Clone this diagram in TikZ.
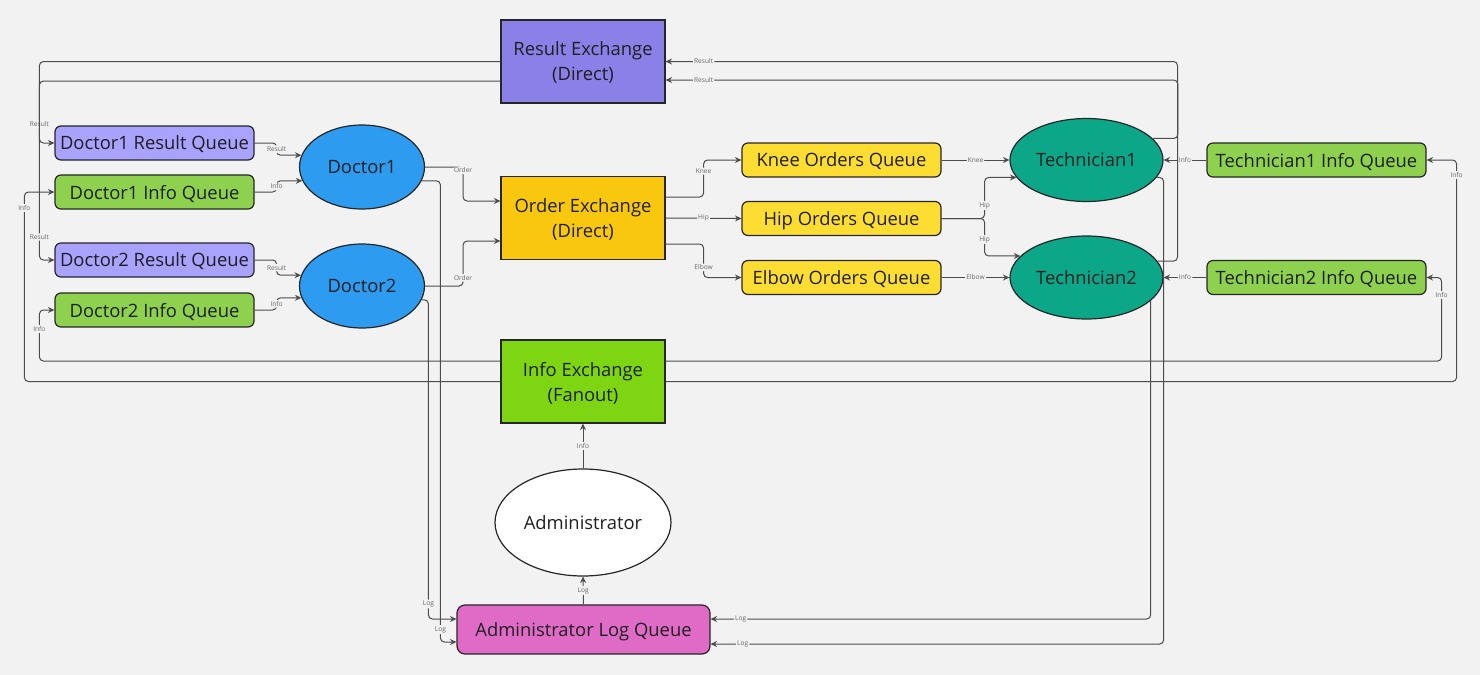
\documentclass[tikz,border=0pt]{standalone}
\usepackage{fontspec}
\setmainfont{Open Sans}
\usetikzlibrary{arrows.meta,calc,shapes.geometric}

\definecolor{pagebg}{HTML}{F2F2F2}
\definecolor{rexfill}{HTML}{8A80E8}
\definecolor{oexfill}{HTML}{F9C80E}
\definecolor{iexfill}{HTML}{7ED612}
\definecolor{resqfill}{HTML}{A9A2FE}
\definecolor{infoqfill}{HTML}{8DD14F}
\definecolor{docfill}{HTML}{2D9BF0}
\definecolor{ordqfill}{HTML}{FEDD33}
\definecolor{techfill}{HTML}{0CA789}
\definecolor{logqfill}{HTML}{E06BC6}

\begin{document}
\begin{tikzpicture}[x = 0.5pt, y = -0.5pt,
    every node/.style = {font = \fontsize{9.2}{12.5}\selectfont, text = black!88},
    exchange/.style = {draw = black!85, line width = 0.6pt, minimum width = 82pt,
        minimum height = 41.5pt, align = center, text depth = 0pt},
    queue/.style = {draw = black!85, line width = 0.6pt, rounded corners = 3pt,
        minimum width = 99.5pt, minimum height = 17pt, inner sep = 0pt, text depth = 0pt},
    actor/.style = {ellipse, draw = black!85, line width = 0.6pt, inner sep = 0pt,
        minimum width = 62.5pt, minimum height = 42pt, text depth = 0pt},
    link/.style = {draw = black!70, line width = 0.5pt, rounded corners = 2pt,
        -{Stealth[length = 3.2pt, width = 3pt]}},
    lbl/.style = {font = \fontsize{3.3}{4}\selectfont, text = black!60, fill = pagebg,
        inner sep = 0.6pt}]

    \fill[pagebg] (0, 0) rectangle (1480, 675);

    % exchanges
    \node[exchange, fill = rexfill] (rex) at (583, 61.5) {Result Exchange\\(Direct)};
    \node[exchange, fill = oexfill] (oex) at (583, 218) {Order Exchange\\(Direct)};
    \node[exchange, fill = iexfill] (iex) at (583, 381.5) {Info Exchange\\(Fanout)};

    % doctors and their queues
    \node[queue, fill = resqfill] (d1res) at (154.5, 143) {Doctor1 Result Queue};
    \node[queue, fill = infoqfill] (d1info) at (154.5, 192) {Doctor1 Info Queue};
    \node[queue, fill = resqfill] (d2res) at (154.5, 260) {Doctor2 Result Queue};
    \node[queue, fill = infoqfill] (d2info) at (154.5, 310) {Doctor2 Info Queue};
    \node[actor, fill = docfill] (doc1) at (362, 167) {Doctor1};
    \node[actor, fill = docfill] (doc2) at (362, 286) {Doctor2};

    % order queues
    \node[queue, fill = ordqfill] (knee) at (841.5, 160) {Knee Orders Queue};
    \node[queue, fill = ordqfill] (hip) at (841.5, 218.5) {Hip Orders Queue};
    \node[queue, fill = ordqfill] (elbow) at (841.5, 277.5) {Elbow Orders Queue};

    % technicians and their queues
    \node[actor, fill = techfill, minimum width = 76.5pt, minimum height = 41.5pt] (tech1)
        at (1086.5, 160) {Technician1};
    \node[actor, fill = techfill, minimum width = 76.5pt, minimum height = 41.5pt] (tech2)
        at (1086.5, 277.5) {Technician2};
    \node[queue, fill = infoqfill, minimum width = 109.5pt] (t1info) at (1316.5, 160)
        {Technician1 Info Queue};
    \node[queue, fill = infoqfill, minimum width = 109.5pt] (t2info) at (1316.5, 277.5)
        {Technician2 Info Queue};

    % administrator
    \node[actor, fill = white, minimum width = 88pt, minimum height = 53.5pt] (admin)
        at (583, 522.5) {Administrator};
    \node[queue, fill = logqfill, rounded corners = 4pt, minimum width = 126.5pt,
        minimum height = 24.5pt] (alog) at (583.5, 629.5) {Administrator Log Queue};

    % queues to doctors
    \draw[link] (d1res.east) -- ++(22, 0) |- node[lbl, pos = 0.25] {Result} (doc1.169);
    \draw[link] (d1info.east) -- ++(22, 0) |- node[lbl, pos = 0.25] {Info} (doc1.193);
    \draw[link] (d2res.east) -- ++(22, 0) |- node[lbl, pos = 0.25] {Result} (doc2.170);
    \draw[link] (d2info.east) -- ++(22, 0) |- node[lbl, pos = 0.25] {Info} (doc2.191);

    % doctors to order exchange
    \draw[link] (doc1.east) -- ++(38, 0) |- node[lbl, pos = 0.05] {Order}
        ($(oex.west) + (0, -17)$);
    \draw[link] (doc2.east) -- ++(38, 0) |- node[lbl, pos = 0.09] {Order}
        ($(oex.west) + (0, 23)$);

    % order exchange to order queues
    \draw[link] ($(oex.east) + (0, -21)$) -- ++(38, 0) |- node[lbl, pos = 0.35] {Knee}
        (knee.west);
    \draw[link] (oex.east) -- node[lbl] {Hip} (hip.west);
    \draw[link] ($(oex.east) + (0, 26)$) -- ++(38, 0) |- node[lbl, pos = 0.35] {Elbow}
        (elbow.west);

    % order queues to technicians
    \draw[link] (knee.east) -- node[lbl] {Knee} (tech1.west);
    \draw[link] (hip.east) -- ++(43, 0) |- node[lbl, pos = 0.16] {Hip} (tech1.194);
    \draw[link] (hip.east) -- ++(43, 0) |- node[lbl, pos = 0.28] {Hip} (tech2.162);
    \draw[link] (elbow.east) -- node[lbl] {Elbow} (tech2.west);
    \draw[link] (t1info.west) -- node[lbl] {Info} (tech1.east);
    \draw[link] (t2info.west) -- node[lbl] {Info} (tech2.east);

    % technicians to result exchange
    \draw[link] (tech1.18) -- ++(25, 0) |- ($(rex.east) + (38, 18.5)$) node[lbl] {Result}
        -- ($(rex.east) + (0, 18.5)$);
    \draw[link] (tech2.13) -- ++(20, 0) |- ($(rex.east) + (38, 0)$) node[lbl] {Result}
        -- (rex.east);

    % result exchange to result queues
    \draw[link] (rex.west) -| ($(d1res.west) + (-15, -19)$) node[lbl] {Result}
        |- (d1res.west);
    \draw[link] ($(rex.west) + (0, 19.5)$) -| ($(d2res.west) + (-15, -23)$) node[lbl] {Result}
        |- (d2res.west);

    % info exchange fans out
    \draw[link] (iex.west) -| ($(d1info.west) + (-30, 16)$) node[lbl] {Info} |- (d1info.west);
    \draw[link] ($(iex.west) + (0, -20.5)$) -| ($(d2info.west) + (-15, 19)$) node[lbl] {Info}
        |- (d2info.west);
    \draw[link] (iex.east) -| ($(t1info.east) + (30, 15)$) node[lbl] {Info} |- (t1info.east);
    \draw[link] ($(iex.east) + (0, -20.5)$) -| ($(t2info.east) + (15, 17.5)$) node[lbl] {Info}
        |- (t2info.east);

    % logs
    \draw[link] (doc1.347) -| ($(alog.west) + (-16, 0)$) node[lbl] {Log}
        |- ($(alog.west) + (0, 12.5)$);
    \draw[link] (doc2.347) -| ($(alog.west) + (-28, -25.5)$) node[lbl] {Log}
        |- ($(alog.west) + (0, -10.5)$);
    \draw[link] (tech2.340) |- ($(alog.east) + (30, -10.5)$) node[lbl] {Log}
        -- ($(alog.east) + (0, -10.5)$);
    \draw[link] (tech1.346) -- ++(7, 0) |- ($(alog.east) + (32, 14.5)$) node[lbl] {Log}
        -- ($(alog.east) + (0, 14.5)$);
    \draw[link] (alog.north) -- node[lbl] {Log} (admin.south);
    \draw[link] (admin.north) -- node[lbl] {Info} (iex.south);
\end{tikzpicture}
\end{document}
